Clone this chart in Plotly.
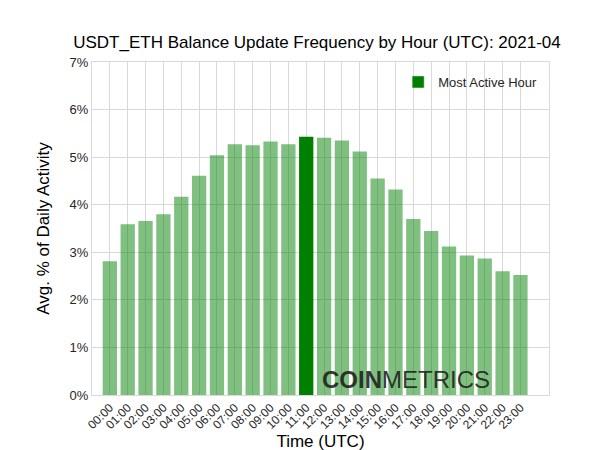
import plotly.graph_objects as go

hours = [f"{h:02d}:00" for h in range(24)]
activity = [2.81, 3.59, 3.66, 3.80, 4.17, 4.61, 5.04, 5.27, 5.25, 5.33, 5.27, 5.43,
            5.41, 5.35, 5.12, 4.55, 4.32, 3.70, 3.45, 3.12, 2.93, 2.87, 2.60, 2.52]
y_ticks = [0, 1, 2, 3, 4, 5, 6, 7]
y_labels = [f"{t}%" for t in y_ticks]

peak = activity.index(max(activity))
colors = ["green" if i == peak else "rgba(0,128,0,0.5)" for i in range(24)]

fig = go.Figure()
fig.add_trace(go.Bar(x=list(range(24)), y=activity, marker=dict(color=colors, line=dict(width=0)),
                     width=0.8, showlegend=False))
# legend entry for the peak bar
fig.add_trace(go.Bar(x=[None], y=[None], marker_color="green", name="Most Active Hour"))

fig.update_layout(
    width=600, height=450,
    margin=dict(l=84, r=59, t=54, b=57),
    paper_bgcolor="white", plot_bgcolor="white",
    font=dict(family="Liberation Sans", color="#262626"),
    title=dict(text="USDT_ETH Balance Update Frequency by Hour (UTC): 2021-04",
               x=0.515, xanchor="center", y=0.925, yanchor="middle",
               font=dict(size=17, color="black")),
    xaxis=dict(title=dict(text="Time (UTC)", font=dict(size=17, color="black"), standoff=2),
               tickvals=list(range(24)), ticktext=hours, range=[-1.0, 24.6],
               tickangle=-45, tickfont=dict(size=12), showgrid=True,
               gridcolor="#d9d9d9", showline=True, linecolor="#d9d9d9", mirror=True),
    yaxis=dict(title=dict(text="Avg. % of Daily Activity", font=dict(size=17, color="black")),
               range=[0, 7], tickvals=y_ticks, ticktext=y_labels, tickfont=dict(size=13),
               gridcolor="#d9d9d9", showline=True, linecolor="#d9d9d9", mirror=True,
               zeroline=False),
    legend=dict(x=0.985, y=0.985, xanchor="right", yanchor="top", font=dict(size=13),
                bgcolor="rgba(255,255,255,0)"),
)
fig.add_annotation(text="<b>COIN</b>METRICS", xref="paper", yref="paper", x=0.875, y=0.0,
                   xanchor="right", yanchor="bottom", showarrow=False,
                   font=dict(size=24, color="rgba(30,30,30,0.9)", family="Liberation Sans"))

fig.write_html("out.html")
